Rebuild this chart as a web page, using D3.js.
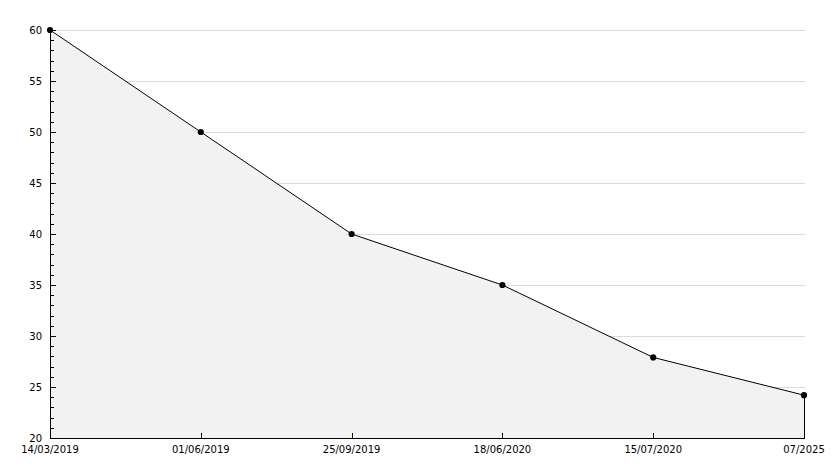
<!DOCTYPE html>
<html><head><meta charset="utf-8">
<script src="https://cdn.jsdelivr.net/npm/d3@7"></script>
<style>
html,body{margin:0;padding:0;background:#fff;}
svg text{font-family:"DejaVu Sans",Verdana,sans-serif;font-size:10px;fill:#000;}
</style></head><body>
<svg id="c" width="834" height="468"></svg>
<script>
const categories = ["14/03/2019","01/06/2019","25/09/2019","18/06/2020","15/07/2020","07/2025"];
const values = [60, 50, 40, 35, 27.9, 24.2];
const yTicks = [20,25,30,35,40,45,50,55,60];

const svg = d3.select("#c");
const L = 50, R = 804, T = 30, B = 438;
const x = d3.scalePoint().domain(categories).range([L, R]);
const y = d3.scaleLinear().domain([20, 60]).range([B, T]);

// gridlines
svg.append("g").selectAll("line").data(yTicks.filter(d=>d>20)).join("line")
  .attr("x1", L).attr("x2", R+1).attr("y1", d=>y(d)+0.5).attr("y2", d=>y(d)+0.5)
  .attr("stroke", "#dcdcdc").attr("stroke-width", 1);

// area
const data = categories.map((c,i)=>({c, v: values[i]}));
svg.append("path").datum(data)
  .attr("d", d3.area().x(d=>x(d.c)).y0(B).y1(d=>y(d.v)))
  .attr("fill", "#f2f2f2");
svg.append("path").datum(data)
  .attr("d", d3.line().x(d=>x(d.c)).y(d=>y(d.v)))
  .attr("fill", "none").attr("stroke", "#000").attr("stroke-width", 1);
// right edge
svg.append("line").attr("x1", x(categories[categories.length-1])+0.5).attr("x2", x(categories[categories.length-1])+0.5)
  .attr("y1", y(values[values.length-1])).attr("y2", B).attr("stroke", "#000");

// y axis
const yAxis = svg.append("g").attr("shape-rendering","crispEdges");
yAxis.append("line").attr("x1", L+0.5).attr("x2", L+0.5).attr("y1", T).attr("y2", B+1).attr("stroke", "#000").attr("stroke-width", 1);
const minor = d3.range(21, 60).filter(d => d % 5 !== 0);
yAxis.selectAll("line.mi").data(minor).join("line").attr("class","mi")
  .attr("x1", L).attr("x2", L+4).attr("y1", d=>Math.round(y(d))+0.5).attr("y2", d=>Math.round(y(d))+0.5).attr("stroke","#000");
yAxis.selectAll("line.ma").data(yTicks).join("line").attr("class","ma")
  .attr("x1", L).attr("x2", L+6).attr("y1", d=>Math.round(y(d))+0.5).attr("y2", d=>Math.round(y(d))+0.5).attr("stroke","#000");
yAxis.selectAll("text").data(yTicks).join("text")
  .attr("x", L-8).attr("y", d=>y(d)+4).attr("text-anchor","end").text(d=>d);

// x axis
const xAxis = svg.append("g").attr("shape-rendering","crispEdges");
xAxis.append("line").attr("x1", L).attr("x2", R+1).attr("y1", B+0.5).attr("y2", B+0.5).attr("stroke","#000").attr("stroke-width", 1);
xAxis.selectAll("line.t").data(categories).join("line").attr("class","t")
  .attr("x1", d=>Math.round(x(d))+0.5).attr("x2", d=>Math.round(x(d))+0.5).attr("y1", B).attr("y2", B-5).attr("stroke","#000");
xAxis.selectAll("text").data(categories).join("text")
  .attr("x", d=>x(d)).attr("y", B+15)
  .attr("text-anchor", "middle").text(d=>d);

// markers
svg.append("g").selectAll("path").data(data).join("path")
  .attr("transform", d=>`translate(${x(d.c)},${y(d.v)})`)
  .attr("d", d3.symbol().type(d3.symbolCircle).size(30))
  .attr("fill", "#000");
</script>
</body></html>
